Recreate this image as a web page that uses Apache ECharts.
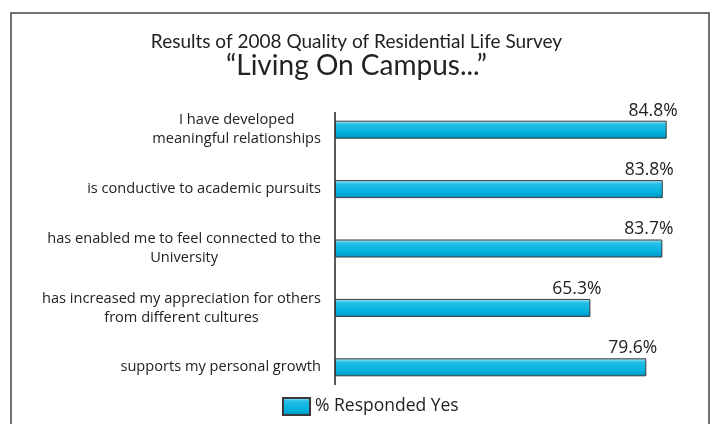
<!DOCTYPE html>
<html lang="en">
<head>
    <meta charset="UTF-8">
    <title>Living On Campus</title>
    <style>
        html, body { margin: 0; padding: 0; background: #fff; }
        #chart { width: 713px; height: 424px; }
    </style>
</head>
<body>
    <div id="chart"></div>
</body>
<script src="https://cdn.jsdelivr.net/npm/echarts@6/dist/echarts.min.js"></script>
<script>
    // survey answers, top to bottom
    var categories = [
        ['I have developed', 'meaningful relationships'],
        ['is conductive to academic pursuits'],
        ['has enabled me to feel connected to the', 'University'],
        ['has increased my appreciation for others', 'from different cultures'],
        ['supports my personal growth']
    ];
    var pctYes = [84.8, 83.8, 83.7, 65.3, 79.6];
    var seriesName = '% Responded Yes';

    var mChart = echarts.init(document.getElementById('chart'));
    var font = 'Lato';
    var labelFont = 'Open Sans';

    var barColor = new echarts.graphic.LinearGradient(0, 0, 0, 1, [
        { offset: 0, color: '#b5e6f4' },
        { offset: 0.22, color: '#22bfe7' },
        { offset: 0.7, color: '#00b0de' },
        { offset: 1, color: '#0092bd' }
    ]);

    var option = {
        animation: false,
        textStyle: { fontFamily: font },
        title: [
            {
                text: 'Results of 2008 Quality of Residential Life Survey',
                left: 'center',
                top: 27,
                textStyle: { fontFamily: font, fontSize: 19, fontWeight: 'normal', color: '#222' }
            },
            {
                text: '\u201CLiving On Campus...\u201D',
                left: 'center',
                top: 47,
                textStyle: { fontFamily: font, fontSize: 28, fontWeight: 'normal', color: '#222' }
            }
        ],
        graphic: [
            {
                // outer frame
                type: 'rect',
                shape: { x: 11, y: 13, width: 698, height: 430 },
                style: { fill: 'none', stroke: '#444', lineWidth: 1.5 },
                silent: true
            },
            {
                // vertical axis rule
                type: 'line',
                shape: { x1: 335, y1: 112, x2: 335, y2: 385 },
                style: { stroke: '#222', lineWidth: 1.5 },
                silent: true
            }
        ],
        legend: {
            data: [seriesName],
            left: 282,
            top: 397,
            padding: 0,
            itemWidth: 27,
            itemHeight: 17,
            itemGap: 8,
            icon: 'rect',
            textStyle: { fontFamily: labelFont, fontSize: 17.5, color: '#222' }
        },
        grid: {
            left: 335,
            right: 26,
            top: 100,
            height: 297
        },
        xAxis: {
            type: 'value',
            min: 0,
            max: 90,
            show: false
        },
        yAxis: {
            type: 'category',
            inverse: true,
            data: categories.map(function (c) { return c.join('\n'); }),
            axisLine: { show: false },
            axisTick: { show: false },
            axisLabel: {
                margin: 14,
                color: '#222',
                fontFamily: labelFont,
                fontSize: 14.6,
                lineHeight: 19,
                formatter: function (v) {
                    // each line centred inside the label block
                    return v.split('\n').map(function (l) { return '{c|' + l + '}'; }).join('\n');
                },
                rich: {
                    c: { align: 'center', fontFamily: labelFont, fontSize: 14.6, lineHeight: 19, color: '#222' }
                }
            }
        },
        series: [
            {
                name: seriesName,
                type: 'bar',
                data: pctYes,
                barWidth: 18,
                itemStyle: {
                    color: barColor,
                    borderColor: '#3a3a3a',
                    borderWidth: 1
                },
                label: {
                    show: true,
                    position: ['100%', 0],
                    align: 'right',
                    verticalAlign: 'bottom',
                    offset: [11, -1],
                    fontFamily: labelFont,
                    fontSize: 17.5,
                    color: '#222',
                    formatter: function (p) { return p.value.toFixed(1) + '%'; }
                }
            }
        ]
    };

    mChart.setOption(option);
</script>
</html>
